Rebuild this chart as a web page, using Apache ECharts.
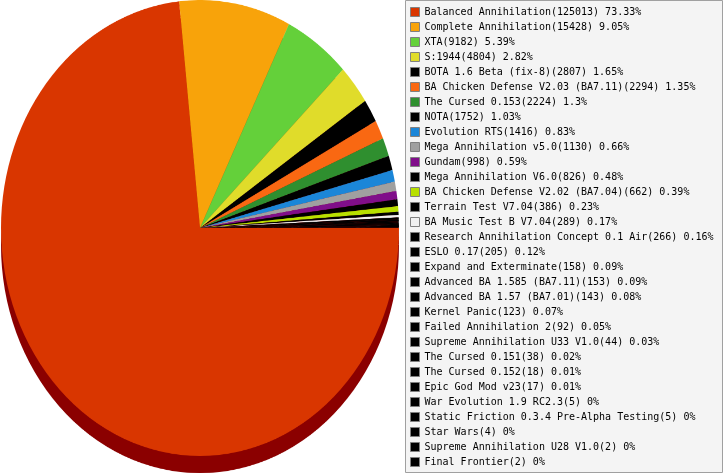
<!DOCTYPE html>
<html>
<head>
<meta charset="utf-8">
<script src="https://cdn.jsdelivr.net/npm/echarts@6/dist/echarts.min.js"></script>
<style>
  html, body { margin: 0; padding: 0; background: #fff; }
  #legendChart { position: absolute; left: 0; top: 0; width: 725px; height: 475px; }
  #pieChart { position: absolute; left: 0; top: 0; width: 400px; height: 418px;
              transform: scaleY(1.1457); transform-origin: 0 0; }
</style>
</head>
<body>
<div id="legendChart"></div>
<div id="pieChart"></div>
<script>
const categories = [
  'Balanced Annihilation', 'Complete Annihilation', 'XTA', 'S:1944',
  'BOTA 1.6 Beta (fix-8)', 'BA Chicken Defense V2.03 (BA7.11)', 'The Cursed 0.153', 'NOTA',
  'Evolution RTS', 'Mega Annihilation v5.0', 'Gundam', 'Mega Annihilation V6.0',
  'BA Chicken Defense V2.02 (BA7.04)', 'Terrain Test V7.04', 'BA Music Test B V7.04',
  'Research Annihilation Concept 0.1 Air', 'ESLO 0.17', 'Expand and Exterminate',
  'Advanced BA 1.585 (BA7.11)', 'Advanced BA 1.57 (BA7.01)', 'Kernel Panic',
  'Failed Annihilation 2', 'Supreme Annihilation U33 V1.0', 'The Cursed 0.151',
  'The Cursed 0.152', 'Epic God Mod v23', 'War Evolution 1.9 RC2.3',
  'Static Friction 0.3.4 Pre-Alpha Testing', 'Star Wars', 'Supreme Annihilation U28 V1.0',
  'Final Frontier'
];
const values = [
  125013, 15428, 9182, 4804, 2807, 2294, 2224, 1752, 1416, 1130, 998, 826, 662, 386, 289,
  266, 205, 158, 153, 143, 123, 92, 44, 38, 18, 17, 5, 5, 4, 2, 2
];
const colors = [
  '#d93600', '#f8a30a', '#64d03a', '#e0dc2a', '#000000', '#f96812', '#2f8f2f', '#000000',
  '#1b86d8', '#a0a0a0', '#800e8a', '#000000', '#b8e000', '#000000', '#f0f0f0',
  '#000000', '#000000', '#000000', '#000000', '#000000', '#000000', '#000000', '#000000',
  '#000000', '#000000', '#000000', '#000000', '#000000', '#000000', '#000000', '#000000'
];
const shadowColor = '#8b0000';

const total = values.reduce((a, b) => a + b, 0);
const data = categories.map((name, i) => ({ name, value: values[i], itemStyle: { color: colors[i] } }));
const valueByName = {};
categories.forEach((n, i) => { valueByName[n] = values[i]; });

// Legend chart (with off-screen pie providing the legend entries)
const legendChart = echarts.init(document.getElementById('legendChart'));
legendChart.setOption({
  animation: false,
  graphic: [{
    type: 'rect', z: -10,
    shape: { x: 405.5, y: 0.5, width: 317, height: 472 },
    style: { fill: '#f4f4f4', stroke: '#a0a0a0', lineWidth: 1 }
  }],
  legend: {
    orient: 'vertical',
    left: 410, top: 7,
    padding: 0,
    itemWidth: 9, itemHeight: 9, itemGap: 5,
    icon: 'rect',
    itemStyle: { borderColor: '#808080', borderWidth: 1 },
    textStyle: { fontFamily: 'DejaVu Sans Mono', fontSize: 10, lineHeight: 10, color: '#000' },
    selectedMode: false,
    formatter: function (name) {
      const v = valueByName[name];
      const pct = Math.round(v / total * 10000) / 100;
      return name + '(' + v + ') ' + pct + '%';
    },
    data: categories
  },
  series: [{
    type: 'pie', center: [-2000, -2000], radius: 1, silent: true,
    label: { show: false }, labelLine: { show: false },
    data: data
  }]
});

// Pie chart (scaled vertically into an ellipse by CSS)
const pieChart = echarts.init(document.getElementById('pieChart'), null, { devicePixelRatio: 2 });
pieChart.setOption({
  animation: false,
  series: [
    {
      type: 'pie', center: [200, 214], radius: 199, startAngle: 0, clockwise: true,
      silent: true, z: 1,
      label: { show: false }, labelLine: { show: false },
      itemStyle: { color: shadowColor, borderWidth: 0 },
      data: values.map((v, i) => ({ name: categories[i], value: v }))
    },
    {
      type: 'pie', center: [200, 199], radius: 199, startAngle: 0, clockwise: true,
      silent: true, z: 2,
      label: { show: false }, labelLine: { show: false },
      itemStyle: { borderWidth: 0 },
      emphasis: { disabled: true },
      data: data
    }
  ]
});
</script>
</body>
</html>
